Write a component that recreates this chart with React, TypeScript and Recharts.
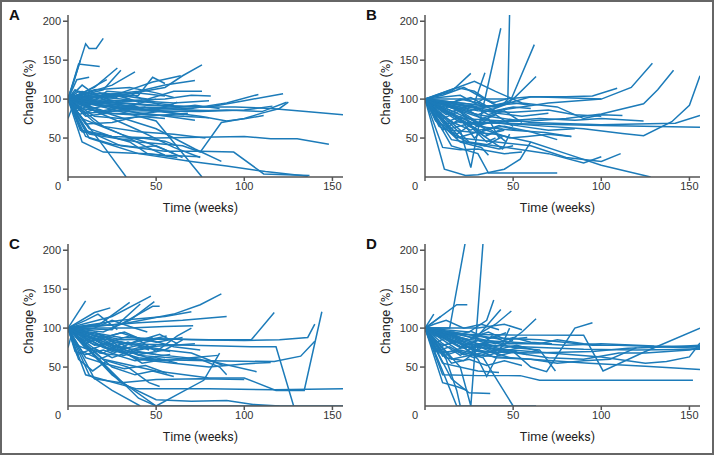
import React from 'react';
import { LineChart, Line, XAxis, YAxis, Label } from 'recharts';

type Pt = [number, number];

const xTicks = [0, 50, 100, 150];
const yTicks = [50, 100, 150, 200];

// each patient: [week, change %]
const panelA: Pt[][] = [
  [[0,100],[20,96],[45,92],[70,90],[95,90],[115,88],[135,84],[156,80]],
  [[0,100],[8,58],[25,52],[50,50],[75,51],[100,52],[115,49],[130,49],[148,42]],
  [[0,100],[10,60],[30,40],[55,33],[75,33],[94,32],[111,4],[137,2]],
  [[0,100],[12,50],[40,30],[70,20],[90,14],[112,7],[136,1]],
  [[0,100],[50,92],[80,90],[100,98],[122,107]],
  [[0,100],[40,90],[70,88],[90,95],[108,106]],
  [[0,100],[35,85],[75,84],[100,86],[116,91]],
  [[0,100],[30,88],[60,84],[90,86],[110,84],[124,96]],
  [[0,100],[12,55],[40,45],[65,40],[75,32],[87,70],[100,75],[110,82],[120,88],[125,96]],
  [[0,100],[25,90],[50,85],[75,78],[90,72],[101,75],[111,79]],
  [[0,100],[10,70],[20,40],[33,0]],
  [[0,100],[20,90],[50,72],[76,0]],
  [[0,100],[25,80],[50,62],[72,36],[87,20]],
  [[0,100],[15,85],[40,60],[60,38],[75,25]],
  [[0,100],[8,75],[30,55],[45,38],[55,28]],
  [[0,100],[10,171],[12,165],[16,165],[20,178]],
  [[0,100],[6,145],[18,142]],
  [[0,100],[3,120],[7,150]],
  [[0,100],[30,105],[55,115],[65,130],[76,144]],
  [[0,100],[40,110],[55,118],[72,124]],
  [[0,100],[30,108],[48,122],[64,130]],
  [[0,100],[15,115],[28,140]],
  [[0,100],[20,112],[30,137]],
  [[0,100],[25,118],[38,135]],
  [[0,100],[10,110],[22,125]],
  [[0,100],[5,125],[12,128]],
  [[0,100],[30,98],[55,100],[70,105],[81,104]],
  [[0,100],[20,108],[45,100],[60,110],[76,110]],
  [[0,100],[15,112],[35,115],[50,108],[60,102]],
  [[0,100],[40,105],[48,128],[55,120]],
  [[0,100],[10,95],[30,90],[50,88],[70,86],[80,85]],
  [[0,100],[8,88],[25,82],[45,80],[65,78],[80,76]],
  [[0,100],[5,92],[20,95],[40,98],[60,95],[80,98]],
  [[0,100],[10,82],[30,85],[50,80],[72,73]],
  [[0,100],[12,104],[30,100],[45,96],[60,92]],
  [[0,100],[6,110],[20,104],[40,108],[55,104]],
  [[0,100],[15,78],[30,75],[50,79],[68,82]],
  [[0,100],[8,98],[25,96],[35,90],[45,98],[55,90]],
  [[0,100],[10,68],[25,70],[40,78],[55,75]],
  [[0,100],[5,105],[15,100],[25,106],[35,100]],
  [[0,100],[20,85],[35,92],[48,84],[62,96]],
  [[0,100],[12,92],[22,110],[35,108],[42,100]],
  [[0,100],[8,45],[20,32],[45,30],[62,25]],
  [[0,100],[10,52],[25,42],[40,38],[50,40],[65,25]],
  [[0,100],[7,60],[20,55],[35,45],[45,30],[55,28],[75,26]],
  [[0,100],[15,70],[30,55],[45,44],[55,35],[60,30]],
  [[0,100],[12,62],[30,48],[42,50],[55,46],[62,40]],
  [[0,100],[20,65],[40,58],[60,55],[78,50]],
  [[0,75],[5,105],[12,100]],
  [[0,100],[4,92],[10,100],[18,94],[26,98]],
  [[0,100],[3,106],[9,98],[16,104],[24,96]],
  [[0,100],[5,88],[12,96],[20,90],[30,94]],
  [[0,100],[4,112],[10,104],[18,108],[28,102]],
  [[0,100],[6,80],[14,86],[24,84],[36,88]],
  [[0,100],[3,96],[8,110],[15,102],[22,106]],
  [[0,100],[6,94],[14,88],[22,92],[32,86],[44,90]],
  [[0,100],[4,84],[10,90],[18,82],[28,88],[40,82]],
  [[0,100],[5,100],[12,92],[20,100],[30,104],[40,96],[50,100]],
  [[0,100],[8,118],[14,108],[22,100],[30,96]],
  [[0,100],[10,78],[22,82],[36,80],[52,84],[66,80]],
  [[0,100],[14,96],[28,92],[42,86],[58,88],[72,92],[86,88]],
];

const panelB: Pt[][] = [
  [[0,100],[25,85],[45,95],[47,100],[48,212]],
  [[0,100],[20,60],[26,12],[30,60],[43,191]],
  [[0,100],[30,80],[48,95],[62,170]],
  [[0,100],[40,90],[50,100],[63,129]],
  [[0,100],[15,110],[26,133]],
  [[0,100],[20,105],[28,95],[34,134]],
  [[0,100],[15,112],[28,123],[40,110],[55,95]],
  [[0,100],[40,90],[60,103],[80,103],[95,104],[109,114]],
  [[0,100],[40,85],[70,95],[100,100],[117,115],[129,146]],
  [[0,100],[30,70],[60,72],[80,75],[100,81],[124,94],[132,112],[141,137]],
  [[0,100],[40,70],[70,65],[90,62],[112,56],[124,53],[140,71],[150,92],[156,130]],
  [[0,100],[30,80],[60,70],[100,67],[120,68],[142,69],[156,79]],
  [[0,100],[20,70],[60,68],[100,66],[156,64]],
  [[0,100],[15,60],[40,55],[60,45],[80,30],[100,15],[128,0]],
  [[0,100],[20,50],[60,40],[80,25],[100,20],[111,30]],
  [[0,100],[25,45],[70,30],[90,18],[100,26]],
  [[0,100],[11,10],[23,2],[30,3],[45,10],[54,23],[60,45]],
  [[0,100],[15,40],[30,30],[36,5],[55,5],[75,5]],
  [[0,100],[30,90],[55,95],[75,90],[90,75],[100,80],[112,79]],
  [[0,100],[45,100],[60,103],[75,102],[100,100]],
  [[0,100],[30,85],[50,83],[70,86],[85,80],[100,78]],
  [[0,100],[20,75],[45,72],[65,75],[85,73],[100,75],[124,72]],
  [[0,100],[30,65],[50,60],[68,57],[83,52]],
  [[0,100],[25,90],[40,82],[55,78],[70,82]],
  [[0,100],[10,75],[20,85],[30,70],[40,80],[50,65]],
  [[0,100],[8,65],[18,55],[28,70],[38,60],[46,45]],
  [[0,100],[12,80],[22,90],[32,75],[45,85],[55,70]],
  [[0,100],[6,85],[16,70],[26,60],[36,75],[42,50]],
  [[0,100],[10,90],[20,100],[30,95],[40,85],[50,90],[60,88]],
  [[0,100],[14,58],[24,45],[34,40],[44,52]],
  [[0,100],[8,70],[20,45],[32,38],[36,28]],
  [[0,100],[12,95],[22,80],[35,60],[48,50],[58,52],[70,55],[83,52]],
  [[0,100],[5,90],[15,80],[25,65],[35,55],[45,60]],
  [[0,100],[18,115],[28,110],[38,95],[46,100]],
  [[0,100],[10,105],[22,115],[30,105],[42,90]],
  [[0,100],[15,48],[30,42],[42,36],[50,40]],
  [[0,100],[20,85],[28,60],[35,45],[40,50]],
  [[0,100],[10,60],[20,75],[28,50],[34,62]],
  [[0,100],[6,78],[14,92],[24,88],[33,100],[40,95]],
  [[0,100],[25,68],[40,70],[55,65],[70,60],[85,62]],
  [[0,100],[30,60],[45,65],[60,58],[75,48]],
  [[0,100],[18,50],[30,58],[44,36],[48,55]],
  [[0,100],[10,38],[20,35],[30,36],[45,30],[55,32]],
  [[0,100],[5,82],[12,70],[20,78],[30,66],[40,72]],
  [[0,100],[8,92],[16,84],[26,92],[36,80],[46,88]],
  [[0,100],[12,68],[22,72],[32,58],[42,66],[52,60]],
  [[0,100],[6,72],[14,62],[24,68],[34,52],[44,62]],
  [[0,100],[16,96],[26,102],[36,90],[48,96],[60,92]],
];

const panelC: Pt[][] = [
  [[0,100],[30,105],[60,118],[75,130],[87,144]],
  [[0,100],[40,107],[65,110],[90,115]],
  [[0,100],[30,110],[55,115],[70,121]],
  [[0,100],[35,100],[55,102],[71,103]],
  [[0,100],[25,115],[47,141]],
  [[0,100],[20,95],[35,110],[49,134]],
  [[0,100],[30,105],[48,128],[52,128]],
  [[0,100],[10,135]],
  [[0,100],[15,120],[24,126]],
  [[0,100],[18,105],[35,133]],
  [[0,100],[25,98],[41,131]],
  [[0,100],[10,110],[17,118],[28,98]],
  [[0,100],[30,88],[70,85],[100,84],[120,85],[136,88],[140,105]],
  [[0,100],[40,60],[80,58],[117,57],[132,64],[140,83]],
  [[0,100],[30,85],[60,86],[80,85],[104,85],[117,120]],
  [[0,100],[40,65],[80,58],[107,44]],
  [[0,100],[30,80],[70,78],[104,76],[118,76],[128,0]],
  [[0,100],[10,40],[39,22],[80,22],[117,21],[156,22]],
  [[0,100],[20,60],[50,45],[80,36],[100,36],[118,20],[134,20],[144,121]],
  [[0,100],[15,35],[30,30],[50,34],[75,35],[100,34]],
  [[0,100],[20,55],[40,10],[50,0],[156,0]],
  [[0,100],[12,40],[25,20],[41,0]],
  [[0,100],[25,40],[50,0],[77,33],[86,68]],
  [[0,100],[30,30],[50,8],[70,6],[90,7],[105,2],[120,0]],
  [[0,100],[40,60],[60,55],[80,50],[100,54],[115,56]],
  [[0,100],[35,70],[55,65],[75,60],[86,50],[90,40]],
  [[0,100],[20,75],[40,62],[55,58],[70,62],[85,65]],
  [[0,100],[10,80],[20,90],[30,75],[40,85],[50,70],[62,90],[70,100]],
  [[0,100],[8,70],[18,60],[30,72],[42,55],[55,60]],
  [[0,100],[12,90],[22,75],[32,68],[45,74],[58,70]],
  [[0,100],[6,85],[15,95],[25,85],[35,80],[48,88]],
  [[0,100],[10,62],[20,55],[32,48],[44,52],[56,42]],
  [[0,100],[15,78],[30,82],[45,76],[60,78],[72,80]],
  [[0,100],[5,95],[15,100],[25,110],[35,102],[45,95]],
  [[0,100],[18,68],[28,65],[38,58],[50,62],[62,55]],
  [[0,100],[8,92],[20,80],[35,90],[50,82],[65,88]],
  [[0,100],[12,75],[25,50],[38,40],[48,45],[60,38]],
  [[0,100],[20,88],[32,95],[42,85],[52,92],[62,80]],
  [[0,100],[6,60],[14,45],[22,58],[34,50],[46,30],[52,25]],
  [[0,100],[25,70],[40,78],[55,72],[70,68],[88,52]],
  [[0,75],[3,100]],
  [[0,100],[5,78],[12,72],[22,80],[32,70],[42,76]],
  [[0,100],[6,88],[14,80],[24,74],[34,82],[46,72]],
  [[0,100],[4,70],[10,66],[20,72],[30,64],[40,70],[50,66]],
  [[0,100],[8,82],[16,90],[26,78],[38,72],[50,78]],
  [[0,100],[10,74],[20,68],[30,80],[40,66],[55,72],[65,85]],
  [[0,100],[5,66],[15,74],[25,62],[35,70],[45,62],[58,66]],
  [[0,100],[12,84],[24,86],[36,78],[48,84],[60,76],[75,72]],
  [[0,100],[7,92],[18,86],[30,94],[44,84],[56,90]],
];

const panelD: Pt[][] = [
  [[0,100],[14,100],[23,212]],
  [[0,100],[12,60],[18,20],[20,0]],
  [[0,100],[20,50],[26,0],[27,30],[33,212]],
  [[0,100],[30,80],[50,70],[60,50],[69,44],[85,100],[95,107]],
  [[0,100],[20,92],[55,91],[90,91],[101,45],[125,70],[156,100]],
  [[0,100],[10,40],[30,39],[54,39],[65,33],[100,33],[152,33]],
  [[0,100],[30,65],[60,60],[93,55],[125,51],[156,47]],
  [[0,100],[30,75],[60,70],[100,63],[125,55],[137,57],[150,63],[156,81]],
  [[0,100],[25,85],[50,82],[80,78],[100,80],[130,77],[156,76]],
  [[0,100],[20,80],[55,76],[90,73],[120,72],[156,73]],
  [[0,100],[30,70],[60,68],[95,70],[115,74],[140,76],[156,78]],
  [[0,100],[15,60],[40,72],[70,62],[90,60],[110,68],[125,68],[150,72],[156,75]],
  [[0,100],[35,88],[65,85],[95,78],[110,78],[156,74]],
  [[0,100],[40,62],[60,60],[75,55],[90,58],[105,60],[120,75]],
  [[0,100],[45,80],[65,80],[75,85],[90,80],[100,78]],
  [[0,100],[10,45],[18,0],[63,0]],
  [[0,100],[20,70],[33,62],[50,0]],
  [[0,100],[15,35],[25,17],[37,16]],
  [[0,100],[10,55],[30,45],[42,43]],
  [[0,100],[20,80],[30,60],[35,38],[40,60],[48,100]],
  [[0,100],[18,130],[24,130]],
  [[0,100],[25,95],[35,110],[39,136]],
  [[0,100],[30,90],[43,124]],
  [[0,100],[25,85],[40,105],[49,122]],
  [[0,100],[40,70],[55,95],[63,112]],
  [[0,100],[5,118]],
  [[0,100],[9,115]],
  [[0,100],[30,100],[45,105],[55,98]],
  [[0,100],[8,75],[18,85],[28,70],[38,90],[48,80]],
  [[0,100],[12,62],[22,58],[32,75],[42,65],[52,70]],
  [[0,100],[6,90],[16,95],[26,88],[36,95],[46,85],[58,88]],
  [[0,100],[10,80],[20,65],[30,80],[40,72],[52,78],[65,70]],
  [[0,100],[15,55],[25,60],[35,52],[45,58],[55,52]],
  [[0,100],[5,105],[12,110],[22,100],[32,105],[42,98]],
  [[0,100],[20,75],[30,85],[40,80],[50,88],[60,82],[72,80]],
  [[0,100],[8,68],[20,72],[34,64],[46,72],[58,66]],
  [[0,100],[12,95],[25,78],[38,82],[50,75],[65,72],[74,45]],
  [[0,100],[10,30],[18,25],[24,20]],
  [[0,100],[4,86],[10,78],[18,82],[26,74],[36,80]],
  [[0,100],[6,70],[14,76],[22,66],[30,72],[40,68]],
  [[0,100],[3,94],[9,88],[16,92],[24,84],[32,90],[42,86]],
  [[0,100],[5,80],[12,88],[20,76],[30,84],[40,76],[50,84]],
  [[0,100],[8,100],[16,90],[26,96],[36,86],[46,94]],
  [[0,100],[10,64],[18,70],[28,62],[38,70],[48,62]],
  [[0,100],[4,76],[12,68],[20,74],[32,78],[44,70],[56,76]],
];

const LINE_COLOR = '#1c7bb9';
const FONT = '"Liberation Sans", Arial, sans-serif';

const XTick = (props: any) => {
  const { x, y, payload } = props;
  const dx = payload.value === 0 ? -10 : 0;
  return (
    <text x={x + dx} y={y} dy={9} textAnchor="middle" fontSize={11} fill="#333" fontFamily={FONT}>
      {payload.value}
    </text>
  );
};

const YTitle = (props: any) => {
  const { viewBox } = props;
  const cx = 28;
  const cy = viewBox.y + viewBox.height / 2 - 4;
  return (
    <text
      x={cx}
      y={cy}
      transform={`rotate(-90 ${cx} ${cy})`}
      textAnchor="middle"
      dominantBaseline="central"
      fontSize={13}
      fill="#222"
      fontFamily="Roboto, sans-serif"
    >
      Change (%)
    </text>
  );
};

const XTitle = (props: any) => {
  const { viewBox } = props;
  const cx = viewBox.x + viewBox.width / 2 - 5;
  return (
    <text x={cx} y={viewBox.y + 35} textAnchor="middle" fontSize={12.5} fill="#222" fontFamily="Roboto, sans-serif">
      Time (weeks)
    </text>
  );
};

function Panel({ letter, lines, left, top, height }: { letter: string; lines: Pt[][]; left: number; top: number; height: number }) {
  return (
    <div style={{ position: 'absolute', left, top, width: 357, height }}>
      <div style={{ position: 'absolute', left: 9, top: 6, fontWeight: 'bold', fontSize: 15, fontFamily: FONT, color: '#111' }}>
        {letter}
      </div>
      <LineChart width={357} height={height} margin={{ top: 15, right: 14, bottom: 0, left: 0 }}>
        <XAxis
          type="number"
          dataKey="t"
          domain={[0, 156]}
          ticks={xTicks}
          allowDataOverflow
          height={height - 162 - 15}
          tickSize={4}
          tickMargin={0}
          tick={<XTick />}
          stroke="#555"
          strokeWidth={1.5}
        >
          <Label content={<XTitle />} />
        </XAxis>
        <YAxis
          type="number"
          dataKey="v"
          domain={[0, 208]}
          ticks={yTicks}
          allowDataOverflow
          width={68}
          tickSize={5}
          tickMargin={2}
          tick={{ fontSize: 11, fill: '#333', fontFamily: FONT }}
          stroke="#555"
          strokeWidth={1.5}
        >
          <Label content={<YTitle />} />
        </YAxis>
        {lines.map((pts, i) => (
          <Line
            key={i}
            type="linear"
            data={pts.map(([t, v]) => ({ t, v }))}
            dataKey="v"
            stroke={LINE_COLOR}
            strokeWidth={1.5}
            dot={false}
            activeDot={false}
            isAnimationActive={false}
          />
        ))}
      </LineChart>
    </div>
  );
}

export default function App() {
  return (
    <div
      style={{
        position: 'absolute',
        left: 0,
        top: 0,
        width: 714,
        height: 455,
        background: '#fff',
        border: '2px solid #666',
        boxSizing: 'border-box',
        overflow: 'hidden',
      }}
    >
      <Panel letter="A" lines={panelA} left={-2} top={-2} height={227} />
      <Panel letter="B" lines={panelB} left={355} top={-2} height={227} />
      <Panel letter="C" lines={panelC} left={-2} top={227} height={227} />
      <Panel letter="D" lines={panelD} left={355} top={227} height={227} />
    </div>
  );
}
